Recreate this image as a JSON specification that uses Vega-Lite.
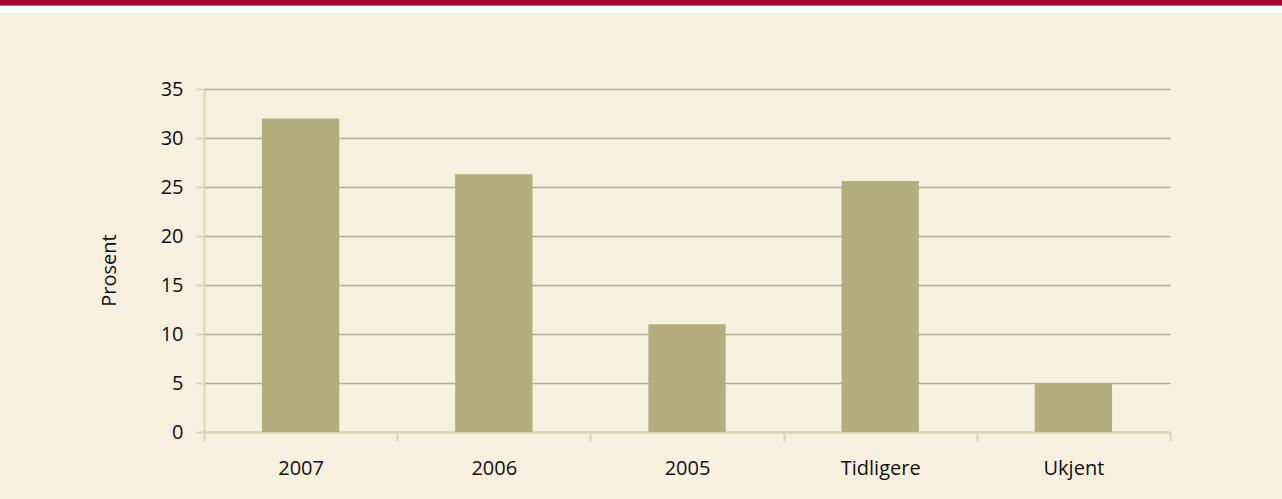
{
  "$schema": "https://vega.github.io/schema/vega-lite/v6.json",
  "background": "#f7f0de",
  "autosize": {"type": "none"},
  "padding": {"left": 204, "top": 89, "right": 112, "bottom": 67},
  "width": 966,
  "height": 343,
  "layer": [
    {
      "data": {"values": [{"part": "top band"}]},
      "mark": {"type": "rect", "color": "#a6002f"},
      "encoding": {
        "x": {"datum": 0, "type": "quantitative", "scale": {"domain": [0, 1], "range": [-204, 1078], "zero": false, "nice": false}, "axis": null},
        "x2": {"datum": 1},
        "y": {"datum": 0, "type": "quantitative", "scale": {"domain": [0, 13], "range": [-89, -76], "zero": false, "nice": false}, "axis": null},
        "y2": {"datum": 5}
      }
    },
    {
      "data": {"values": [{"part": "band edge"}]},
      "mark": {"type": "rect", "color": "#d3667f"},
      "encoding": {
        "x": {"datum": 0, "type": "quantitative", "scale": {"domain": [0, 1], "range": [-204, 1078], "zero": false, "nice": false}, "axis": null},
        "x2": {"datum": 1},
        "y": {"datum": 5, "type": "quantitative", "scale": {"domain": [0, 13], "range": [-89, -76], "zero": false, "nice": false}, "axis": null},
        "y2": {"datum": 6}
      }
    },
    {
      "data": {"values": [{"part": "white gap"}]},
      "mark": {"type": "rect", "color": "#ffffff"},
      "encoding": {
        "x": {"datum": 0, "type": "quantitative", "scale": {"domain": [0, 1], "range": [-204, 1078], "zero": false, "nice": false}, "axis": null},
        "x2": {"datum": 1},
        "y": {"datum": 6, "type": "quantitative", "scale": {"domain": [0, 13], "range": [-89, -76], "zero": false, "nice": false}, "axis": null},
        "y2": {"datum": 13}
      }
    },
    {
      "data": {
        "values": [
          {"periode": "2007", "prosent": 32.0},
          {"periode": "2006", "prosent": 26.3},
          {"periode": "2005", "prosent": 11.0},
          {"periode": "Tidligere", "prosent": 25.6},
          {"periode": "Ukjent", "prosent": 5.0}
        ]
      },
      "mark": {"type": "bar", "color": "#b4ad7f", "width": {"band": 0.4}},
      "encoding": {
        "x": {
          "field": "periode",
          "type": "nominal",
          "sort": null,
          "title": null,
          "scale": {"paddingInner": 0, "paddingOuter": 0},
          "axis": {
            "labelAngle": 0,
            "labelFontSize": 20,
            "labelColor": "#111111",
            "labelPadding": 17,
            "tickBand": "extent",
            "tickColor": "#ddd4bb",
            "tickWidth": 2,
            "tickSize": 9,
            "domainColor": "#ddd4bb",
            "domainWidth": 2,
            "grid": false
          }
        },
        "y": {
          "field": "prosent",
          "type": "quantitative",
          "title": "Prosent",
          "scale": {"domain": [0, 35], "nice": false},
          "axis": {
            "values": [0, 5, 10, 15, 20, 25, 30, 35],
            "grid": true,
            "labelFontSize": 20,
            "labelColor": "#111111",
            "labelPadding": 13,
            "tickColor": "#ddd4bb",
            "tickWidth": 2,
            "tickSize": 8,
            "domainColor": "#ddd4bb",
            "domainWidth": 2,
            "gridColor": "#b7aa98",
            "gridWidth": 1.5,
            "titleFontSize": 20,
            "titleFontWeight": "normal",
            "titleColor": "#111111",
            "titlePadding": 41,
            "titleY": 181
          }
        }
      }
    }
  ],
  "resolve": {"scale": {"x": "independent", "y": "independent"}},
  "config": {
    "view": {"stroke": null},
    "font": "Open Sans"
  }
}
